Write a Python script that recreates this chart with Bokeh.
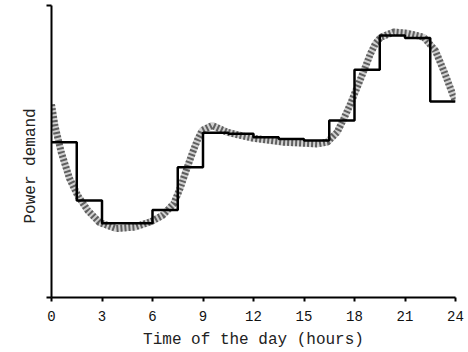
from bokeh.plotting import figure
from bokeh.models import Range1d, FixedTicker
from bokeh.embed import file_html
from bokeh.resources import INLINE

# Step approximation (1.5 h blocks), value at start of each block (last repeated)
step_hours = [0, 1.5, 3, 4.5, 6, 7.5, 9, 10.5, 12, 13.5, 15, 16.5, 18, 19.5, 21, 22.5, 24]
step_demand = [53.2, 33.2, 25.4, 25.4, 30.0, 44.6, 56.4, 56.1, 54.9, 54.3, 53.8,
               60.6, 78.0, 89.7, 88.9, 67.1, 67.1]

# Smooth demand profile
curve_hours = [0, 0.2, 0.58, 1.07, 1.56, 2.16, 2.85, 3.84, 4.93, 5.92, 6.6, 7.27,
               7.66, 8.06, 8.36, 8.66, 8.95, 9.55, 10.44, 11.23, 12.02, 13.8, 15.79,
               16.38, 16.97, 17.37, 17.77, 18.16, 18.56, 18.95, 19.25, 19.55, 20.34,
               21.13, 22.12, 22.8, 23.3, 23.9, 24.0]
curve_demand = [66.1, 58.9, 49.7, 40.8, 34.9, 29.8, 25.7, 23.6, 24.1, 26.0, 28.1, 32.2,
                37.7, 44.5, 49.3, 53.8, 57.2, 58.9, 56.6, 55.5, 54.5, 53.2, 52.6,
                53.2, 56.6, 61.3, 66.4, 72.0, 77.7, 83.5, 87.0, 89.1, 90.9,
                90.5, 89.1, 84.6, 77.7, 68.6, 67.1]

x_ticks = [0, 3, 6, 9, 12, 15, 18, 21, 24]
y_ticks = [0, 100]

FONT = "Liberation Mono"

p = figure(width=468, height=352, output_backend="svg", toolbar_location=None,
           x_range=Range1d(0, 24), y_range=Range1d(0, 100),
           min_border_left=51, min_border_right=13, min_border_top=5,
           min_border_bottom=55)
p.outline_line_color = None
p.grid.visible = False

# smooth curve: hatched grey look
p.line(curve_hours, curve_demand, line_width=7, line_color="#d0d0d0")
p.line(curve_hours, curve_demand, line_width=7, line_color="#5f5f5f",
       line_dash="2 2")
# step function
p.step(step_hours, step_demand, mode="after", line_width=2.5, line_color="black")

xa = p.xaxis[0]
xa.ticker = FixedTicker(ticks=x_ticks)
xa.axis_line_width = 2
xa.major_tick_line_width = 2
xa.major_tick_in = 0
xa.major_tick_out = 4
xa.minor_tick_line_color = None
xa.major_label_text_font = FONT
xa.major_label_text_font_size = "14px"
xa.major_label_text_color = "#111111"
xa.major_label_standoff = 9
xa.axis_label = "Time of the day (hours)"
xa.axis_label_text_font = FONT
xa.axis_label_text_font_size = "16px"
xa.axis_label_text_font_style = "normal"
xa.axis_label_text_color = "#222222"
xa.axis_label_standoff = 7

ya = p.yaxis[0]
ya.ticker = FixedTicker(ticks=y_ticks)
ya.axis_line_width = 2
ya.major_tick_line_width = 2
ya.major_tick_in = 0
ya.major_tick_out = 5
ya.minor_tick_line_color = None
ya.major_label_overrides = {0: "", 100: ""}
ya.major_label_standoff = 0
ya.axis_label = "Power demand\u00a0\u00a0\u00a0"
ya.axis_label_text_font = FONT
ya.axis_label_text_font_size = "16px"
ya.axis_label_text_font_style = "normal"
ya.axis_label_text_color = "#222222"
ya.axis_label_standoff = 7

open("out.html", "w").write(file_html(p, INLINE))
